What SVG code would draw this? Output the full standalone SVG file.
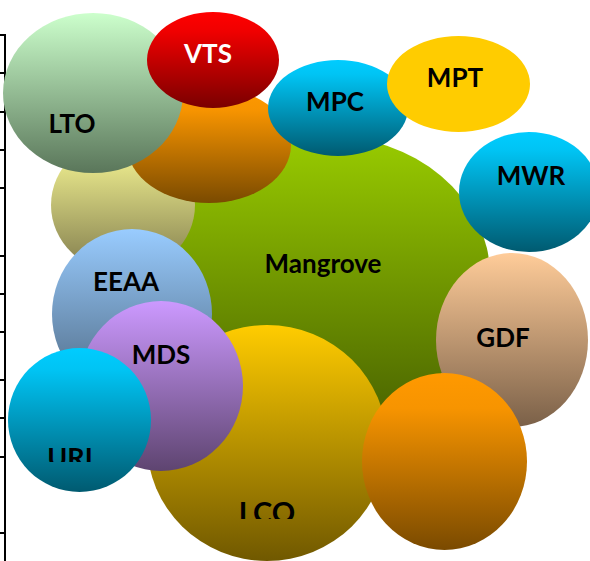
<svg xmlns="http://www.w3.org/2000/svg" width="590" height="561" viewBox="0 0 590 561">
<defs>
<linearGradient id="gLTO" x1="0" y1="0" x2="0" y2="1"><stop offset="0" stop-color="#CCFFCC"/><stop offset="1" stop-color="#5A765A"/></linearGradient>
<linearGradient id="gVTS" x1="0" y1="0" x2="0" y2="1"><stop offset="0" stop-color="#FF0000"/><stop offset="0.2" stop-color="#F00000"/><stop offset="1" stop-color="#7A0000"/></linearGradient>
<linearGradient id="gOR" x1="0" y1="0" x2="0" y2="1"><stop offset="0" stop-color="#FF9900"/><stop offset="0.2" stop-color="#F79400"/><stop offset="1" stop-color="#7A4A00"/></linearGradient>
<linearGradient id="gPY" x1="0" y1="0" x2="0" y2="1"><stop offset="0" stop-color="#FFFF99"/><stop offset="1" stop-color="#7F7A4C"/></linearGradient>
<linearGradient id="gCY" x1="0" y1="0" x2="0" y2="1"><stop offset="0" stop-color="#00CCFF"/><stop offset="0.15" stop-color="#00C4F4"/><stop offset="1" stop-color="#005A70"/></linearGradient>
<linearGradient id="gGR" x1="0" y1="0" x2="0" y2="1"><stop offset="0" stop-color="#99CC00"/><stop offset="1" stop-color="#4C6600"/></linearGradient>
<linearGradient id="gGDF" x1="0" y1="0" x2="0" y2="1"><stop offset="0" stop-color="#FFCC99"/><stop offset="1" stop-color="#7A6048"/></linearGradient>
<linearGradient id="gEE" x1="0" y1="0" x2="0" y2="1"><stop offset="0" stop-color="#99CCFF"/><stop offset="1" stop-color="#4C667F"/></linearGradient>
<linearGradient id="gMDS" x1="0" y1="0" x2="0" y2="1"><stop offset="0" stop-color="#CC99FF"/><stop offset="1" stop-color="#5E4470"/></linearGradient>
<linearGradient id="gLCO" x1="0" y1="0" x2="0" y2="1"><stop offset="0" stop-color="#FFCC00"/><stop offset="1" stop-color="#705800"/></linearGradient>
<clipPath id="cURI"><rect x="0" y="440" width="160" height="22"/></clipPath>
<clipPath id="cLCO"><rect x="200" y="495" width="140" height="24"/></clipPath>
<style>
.lbl{font-family:Lato,"Liberation Sans",Arial,sans-serif;font-weight:bold;font-size:26px;fill:#000;text-anchor:middle}
.w{fill:#fff}
.big{font-size:29px}
.ax{stroke:#000;stroke-width:2;fill:none}
</style>
</defs>
<g id="axis">
<path class="ax" d="M5,34V561M0,35H5M0,73H5M0,112H5M0,150H5M0,188H5M0,256H5M0,294H5M0,332H5M0,380H5M0,418H5M0,457H5M0,533H5"/>
</g>
<g id="mangrove"><ellipse cx="323" cy="275" rx="167" ry="140" fill="url(#gGR)"/><text class="lbl" x="323" y="273">Mangrove</text></g>
<g id="paleyellow"><ellipse cx="123" cy="205" rx="72" ry="68" fill="url(#gPY)"/></g>
<g id="orange-top"><ellipse cx="209" cy="145" rx="82" ry="58" fill="url(#gOR)"/></g>
<g id="LTO"><ellipse cx="93" cy="93" rx="90" ry="80" fill="url(#gLTO)"/><text class="lbl" x="72" y="133">LTO</text></g>
<g id="VTS"><ellipse cx="213" cy="60" rx="66" ry="48" fill="url(#gVTS)"/><text class="lbl w" x="208" y="63">VTS</text></g>
<g id="MPC"><ellipse cx="338" cy="108" rx="70" ry="48" fill="url(#gCY)"/><text class="lbl" x="335" y="111">MPC</text></g>
<g id="MPT"><ellipse cx="458.5" cy="84" rx="71.5" ry="48" fill="#FFCC00"/><text class="lbl" x="455" y="87">MPT</text></g>
<g id="MWR"><ellipse cx="529" cy="192" rx="70" ry="60" fill="url(#gCY)"/><text class="lbl" x="531" y="185">MWR</text></g>
<g id="GDF"><ellipse cx="512" cy="340" rx="76" ry="87" fill="url(#gGDF)"/><text class="lbl" x="503" y="347">GDF</text></g>
<g id="LCO"><ellipse cx="267" cy="443" rx="120" ry="118" fill="url(#gLCO)"/><text class="lbl big" x="267" y="523" clip-path="url(#cLCO)">LCO</text></g>
<g id="orange-bottom"><ellipse cx="444.5" cy="461.5" rx="82.5" ry="88.5" fill="url(#gOR)"/></g>
<g id="EEAA"><ellipse cx="132" cy="314" rx="80" ry="85" fill="url(#gEE)"/><text class="lbl" x="126" y="291">EEAA</text></g>
<g id="MDS"><ellipse cx="161" cy="386" rx="82" ry="85" fill="url(#gMDS)"/><text class="lbl" x="161" y="364">MDS</text></g>
<g id="URI"><ellipse cx="79.5" cy="420" rx="71.5" ry="72" fill="url(#gCY)"/><text class="lbl" x="70" y="467" style="font-size:27px" clip-path="url(#cURI)">URI</text></g>
<g id="connectors"/>
</svg>
